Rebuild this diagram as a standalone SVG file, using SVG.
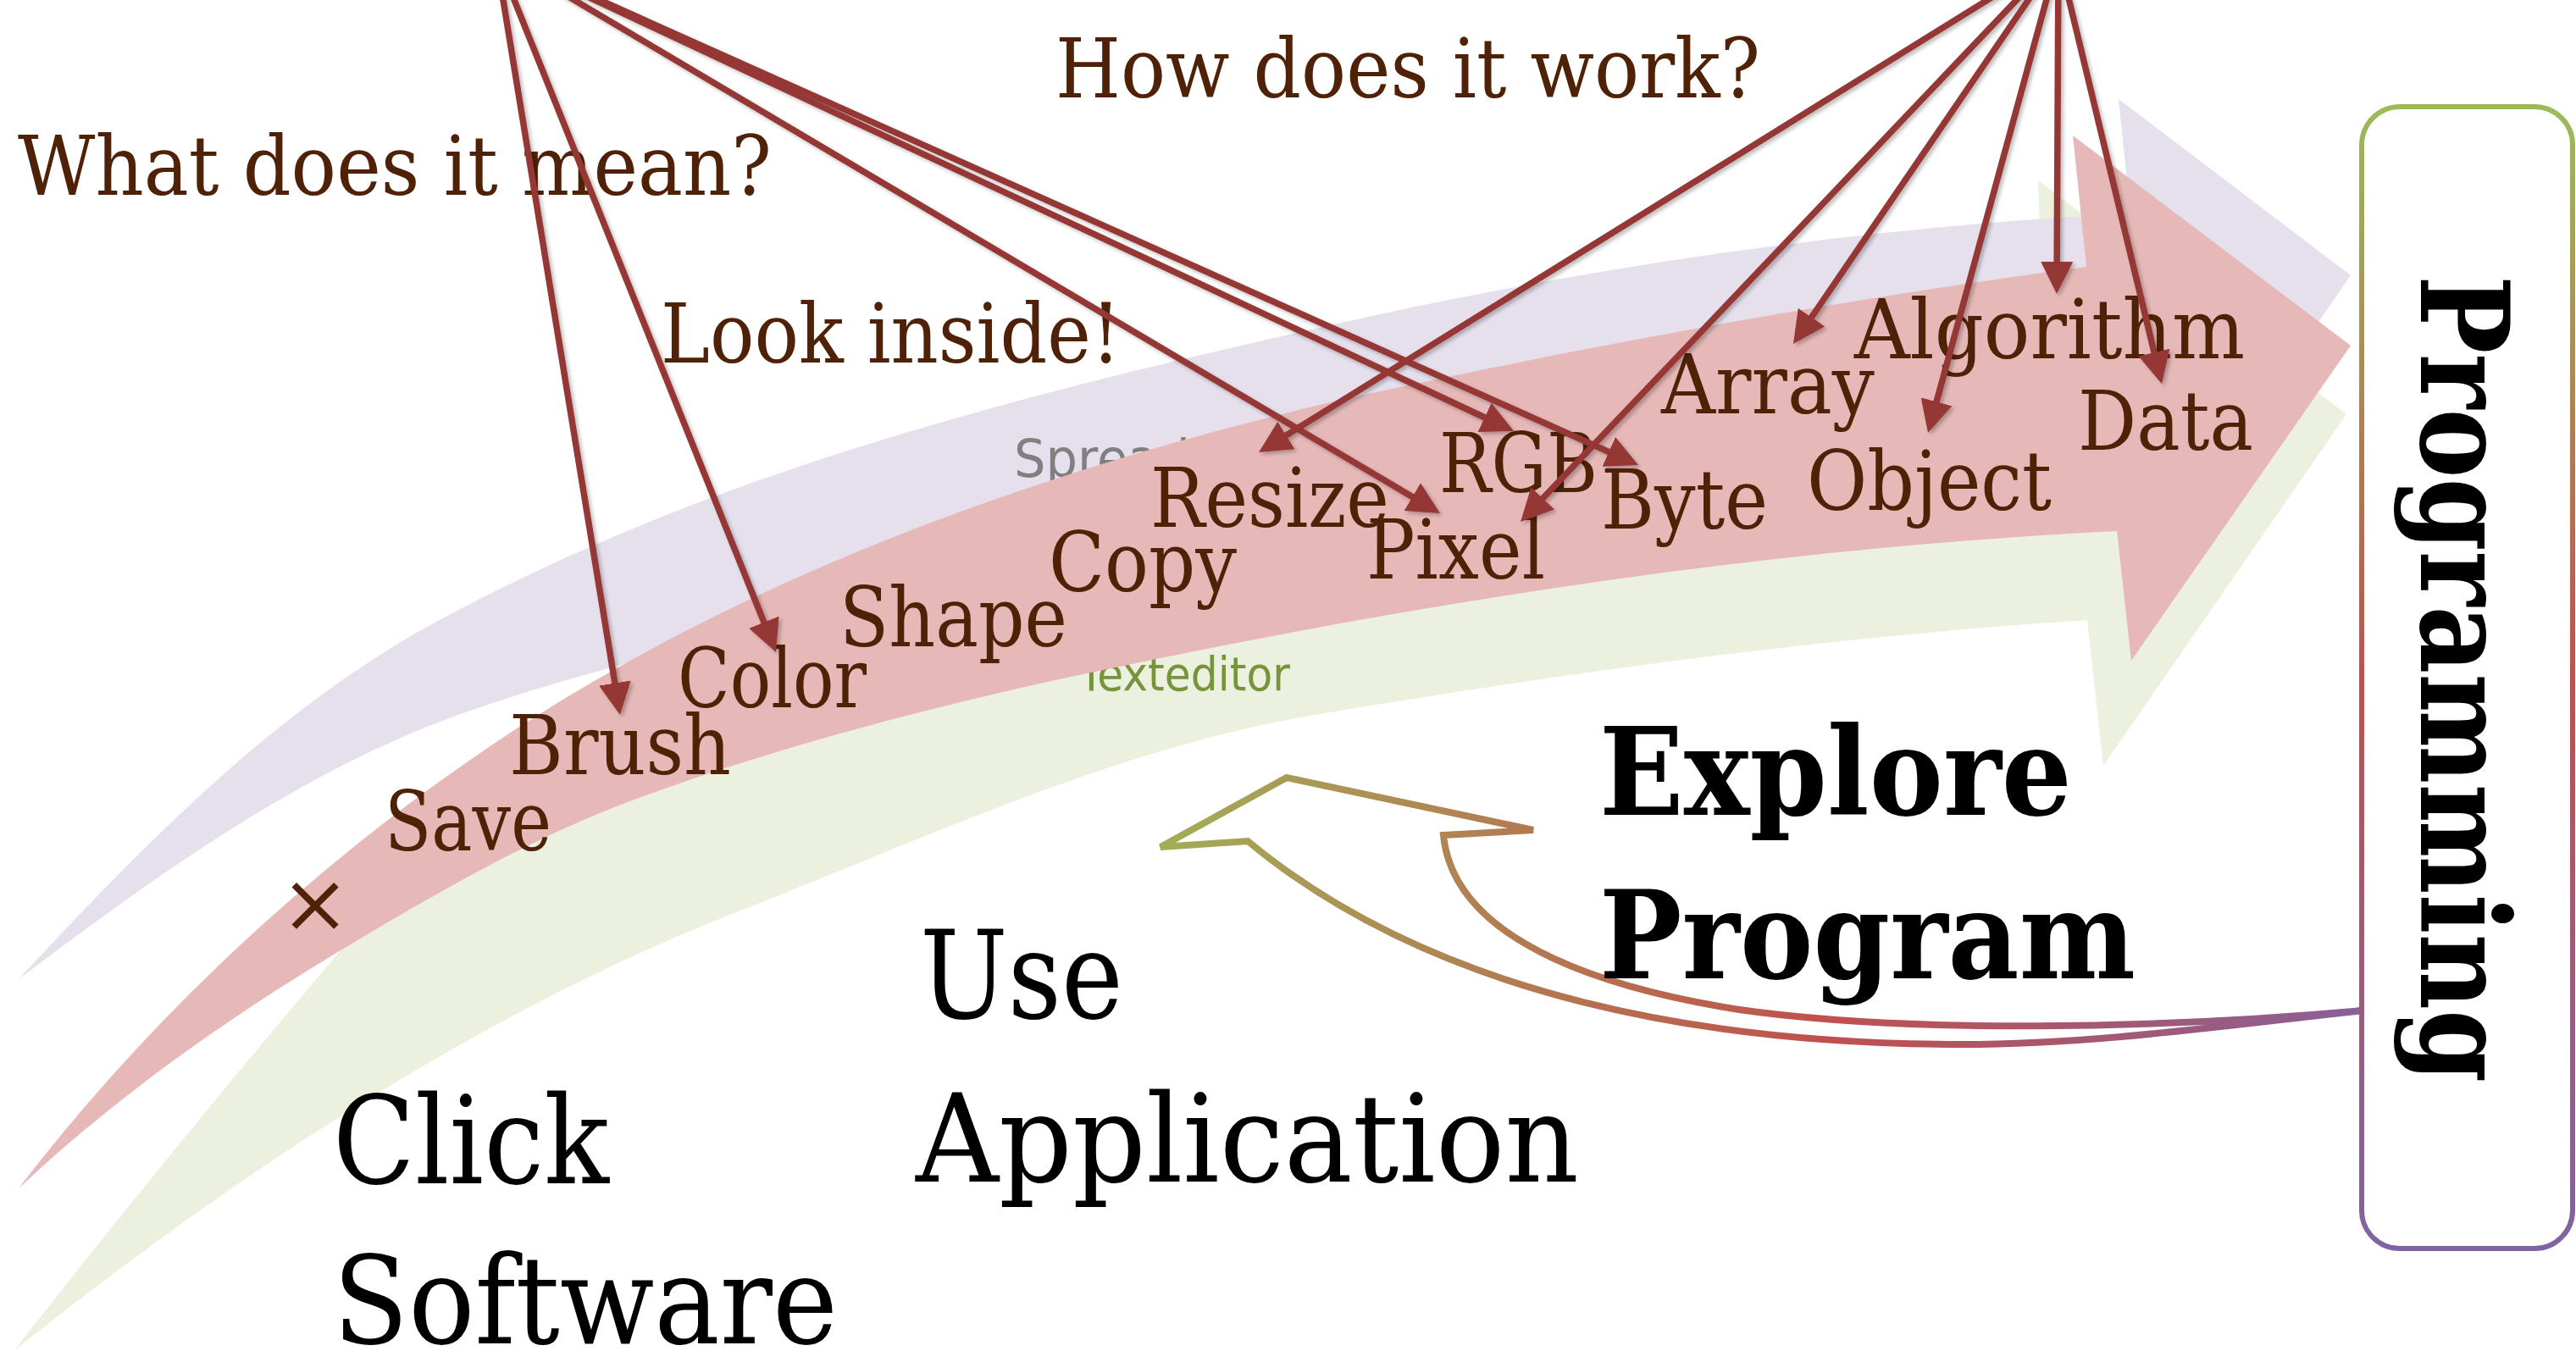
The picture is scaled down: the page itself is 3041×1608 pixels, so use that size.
<svg xmlns="http://www.w3.org/2000/svg" width="3041" height="1608" viewBox="0 0 3041 1608">
<defs>
<style>
.w{font-family:"DejaVu Serif","Liberation Serif",serif;font-size:98px;fill:#4f2207}
.big{font-family:"DejaVu Serif","Liberation Serif",serif;font-size:145px;fill:#000}
.bold{font-family:"DejaVu Serif","Liberation Serif",serif;font-size:145px;font-weight:bold;fill:#000}
.sans{font-family:"DejaVu Sans","Liberation Sans",sans-serif}
.con{fill:none;stroke:#953735;stroke-width:7.5;marker-end:url(#ah)}
</style>
<marker id="ah" markerUnits="userSpaceOnUse" viewBox="0 0 38 38" markerWidth="38" markerHeight="38" refX="18" refY="19" orient="auto">
<path d="M0,0 L38,19 L0,38 Z" fill="#953735"/>
</marker>
<filter id="sh" x="-10%" y="-10%" width="120%" height="120%">
<feDropShadow dx="3" dy="3" stdDeviation="2" flood-color="#000" flood-opacity="0.25"/>
</filter>
<linearGradient id="gbox" x1="0" y1="0" x2="0" y2="1">
<stop offset="0" stop-color="#9bbb59"/>
<stop offset="0.5" stop-color="#c0504d"/>
<stop offset="1" stop-color="#8064a2"/>
</linearGradient>
<linearGradient id="garr" gradientUnits="userSpaceOnUse" x1="1370" y1="0" x2="2790" y2="0">
<stop offset="0" stop-color="#a3ad57"/>
<stop offset="0.55" stop-color="#c0504d"/>
<stop offset="1" stop-color="#8a6096"/>
</linearGradient>
</defs>
<rect width="3041" height="1608" fill="#fff"/>

<g id="band-green">
<path d="M17,1594 Q200,1360 402,1122 C560,940 1200,700 2415,470 L2406,213 L2770,489 L2483,904 L2464,732 C2159,752 1854,793 1552,844 C1326,882 1113,980 900,1065 C582,1185 289,1378 17,1594 Z" fill="#ebf1de"/>
<text class="sans" x="1273" y="815" font-size="55" fill="#77933c" textLength="250" lengthAdjust="spacingAndGlyphs">Texteditor</text>
</g>
<g id="band-purple">
<path d="M22,1156 C170,997 326,836 517,733 C842,557 1209,465 1570,384 C1880,314 2198,268 2515,252 L2501,117 L2775,325 L2600,580 L2540,540 C2000,560 1300,660 850,752 C739,785 625,811 517,853 C337,923 176,1040 22,1156 Z" fill="#e5e0ec"/>
<text class="sans" x="1197" y="563" font-size="62" fill="#808080" textLength="208" lengthAdjust="spacingAndGlyphs">Spread</text>
</g>
<g id="band-pink">
<path d="M22,1403 C162,1220 331,1059 517,924 C826,699 1198,563 1570,475 C1864,410 2163,355 2463,315 L2447,160 L2775,408 L2516,780 L2499,627 C2091,647 1683,710 1283,795 C1101,834 920,881 746,945 C625,990 513,1056 402,1122 C267,1203 137,1295 22,1403 Z" fill="#e6b9b8"/>
</g>

<g id="questions">
<text class="w" x="21" y="230" textLength="890" lengthAdjust="spacingAndGlyphs">What does it mean?</text>
<text class="w" x="1246" y="115" textLength="832" lengthAdjust="spacingAndGlyphs">How does it work?</text>
<text class="w" x="780" y="428" textLength="543" lengthAdjust="spacingAndGlyphs">Look inside!</text>
</g>

<g id="words">
<text class="w" x="331" y="1100" font-size="51">×</text>
<text class="w" x="454" y="1004" textLength="197" lengthAdjust="spacingAndGlyphs">Save</text>
<text class="w" x="601" y="914" textLength="262" lengthAdjust="spacingAndGlyphs">Brush</text>
<text class="w" x="800" y="835" textLength="223" lengthAdjust="spacingAndGlyphs">Color</text>
<text class="w" x="991" y="763" textLength="269" lengthAdjust="spacingAndGlyphs">Shape</text>
<text class="w" x="1238" y="698" textLength="222" lengthAdjust="spacingAndGlyphs">Copy</text>
<text class="w" x="1358" y="622" textLength="282" lengthAdjust="spacingAndGlyphs">Resize</text>
<text class="w" x="1613" y="683" textLength="211" lengthAdjust="spacingAndGlyphs">Pixel</text>
<text class="w" x="1699" y="581" textLength="187" lengthAdjust="spacingAndGlyphs">RGB</text>
<text class="w" x="1890" y="624" textLength="197" lengthAdjust="spacingAndGlyphs">Byte</text>
<text class="w" x="1961" y="488" textLength="252" lengthAdjust="spacingAndGlyphs">Array</text>
<text class="w" x="2189" y="423" textLength="461" lengthAdjust="spacingAndGlyphs">Algorithm</text>
<text class="w" x="2133" y="602" textLength="289" lengthAdjust="spacingAndGlyphs">Object</text>
<text class="w" x="2453" y="531" textLength="207" lengthAdjust="spacingAndGlyphs">Data</text>
</g>

<g id="labels">
<text class="big" x="393" y="1397" textLength="326" lengthAdjust="spacingAndGlyphs">Click</text>
<text class="big" x="393" y="1586" textLength="596" lengthAdjust="spacingAndGlyphs">Software</text>
<text class="big" x="1086" y="1202" textLength="240" lengthAdjust="spacingAndGlyphs">Use</text>
<text class="big" x="1081" y="1395" textLength="783" lengthAdjust="spacingAndGlyphs">Application</text>
</g>

<g id="back-arrow">
<path d="M2790,1193 C2632,1210 2474,1233 2315,1233 C2023,1233 1698,1180 1473,993 L1370,1000 L1519,918 L1810,980 L1704,986 C1717,1120 1920,1171 2053,1192 C2250,1220 2545,1215 2790,1193 Z" fill="none" stroke="url(#garr)" stroke-width="8" stroke-linejoin="miter" stroke-miterlimit="4"/>
</g>

<g id="explore">
<text class="bold" x="1888" y="962" textLength="558" lengthAdjust="spacingAndGlyphs">Explore</text>
<text class="bold" x="1888" y="1155" textLength="633" lengthAdjust="spacingAndGlyphs">Program</text>
</g>

<g id="programming">
<rect x="2788" y="126" width="249" height="1348" rx="45" ry="45" fill="#fff" stroke="url(#gbox)" stroke-width="6"/>
<text class="bold" font-size="147" transform="translate(2858,325) rotate(90)" x="0" y="0" textLength="953" lengthAdjust="spacingAndGlyphs">Programming</text>
</g>

<g id="connectors" filter="url(#sh)">
<line class="con" x1="585" y1="-55" x2="728.8" y2="824.3"/>
<line class="con" x1="585" y1="-55" x2="908.6" y2="751.4"/>
<line class="con" x1="585" y1="-55" x2="1682.8" y2="595.8"/>
<line class="con" x1="585" y1="-55" x2="1768.9" y2="500.5"/>
<line class="con" x1="585" y1="-55" x2="1915.7" y2="540.8"/>
<line class="con" x1="2430" y1="-52" x2="1503" y2="523.5"/>
<line class="con" x1="2430" y1="-52" x2="1808.8" y2="601.5"/>
<line class="con" x1="2430" y1="-52" x2="2128.3" y2="389.5"/>
<line class="con" x1="2430" y1="-52" x2="2281.3" y2="491.7"/>
<line class="con" x1="2430" y1="-52" x2="2428.1" y2="327"/>
<line class="con" x1="2430" y1="-52" x2="2547.3" y2="433.6"/>
</g>
</svg>
